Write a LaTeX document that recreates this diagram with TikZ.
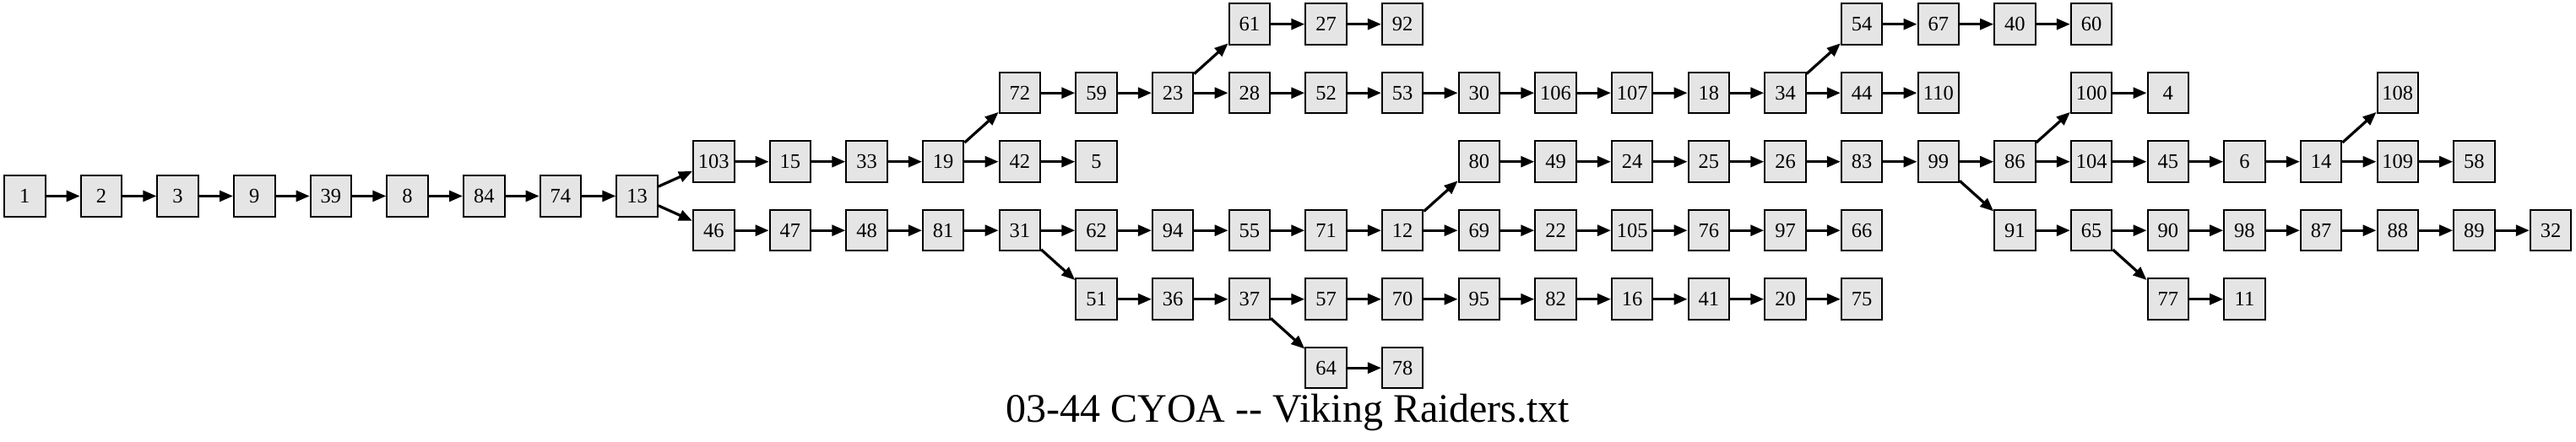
\documentclass[tikz,border=0pt]{standalone}
\usepackage{fontspec}
\setmainfont{Liberation Serif}
\usetikzlibrary{arrows.meta}

\begin{document}
\begin{tikzpicture}[x=45.33pt, y=-40.75pt,
            para/.style={draw, line width=1pt, fill=black!10, minimum width=24.25pt, minimum height=24.25pt, inner sep=0pt, font=\fontsize{12.25}{14}\selectfont},
            link/.style={-{Triangle[length=8pt,width=6.4pt]}, line width=1.6pt}]
            \useasboundingbox (-14.65pt,14.35pt) rectangle (1510.85pt,-247.65pt);
            % start
            \node [para] (n1) at (0,2.5) {1};
            \node [para] (n2) at (1,2.5) {2};
            \node [para] (n3) at (2,2.5) {3};
            \node [para] (n9) at (3,2.5) {9};
            \node [para] (n39) at (4,2.5) {39};
            \node [para] (n8) at (5,2.5) {8};
            \node [para] (n84) at (6,2.5) {84};
            \node [para] (n74) at (7,2.5) {74};
            \node [para] (n13) at (8,2.5) {13};
            % row 0
            \node [para] (n61) at (16,0) {61};
            \node [para] (n27) at (17,0) {27};
            \node [para] (n92) at (18,0) {92};
            \node [para] (n54) at (24,0) {54};
            \node [para] (n67) at (25,0) {67};
            \node [para] (n40) at (26,0) {40};
            \node [para] (n60) at (27,0) {60};
            % row 1
            \node [para] (n72) at (13,1) {72};
            \node [para] (n59) at (14,1) {59};
            \node [para] (n23) at (15,1) {23};
            \node [para] (n28) at (16,1) {28};
            \node [para] (n52) at (17,1) {52};
            \node [para] (n53) at (18,1) {53};
            \node [para] (n30) at (19,1) {30};
            \node [para] (n106) at (20,1) {106};
            \node [para] (n107) at (21,1) {107};
            \node [para] (n18) at (22,1) {18};
            \node [para] (n34) at (23,1) {34};
            \node [para] (n44) at (24,1) {44};
            \node [para] (n110) at (25,1) {110};
            \node [para] (n100) at (27,1) {100};
            \node [para] (n4) at (28,1) {4};
            \node [para] (n108) at (31,1) {108};
            % row 2
            \node [para] (n103) at (9,2) {103};
            \node [para] (n15) at (10,2) {15};
            \node [para] (n33) at (11,2) {33};
            \node [para] (n19) at (12,2) {19};
            \node [para] (n42) at (13,2) {42};
            \node [para] (n5) at (14,2) {5};
            \node [para] (n80) at (19,2) {80};
            \node [para] (n49) at (20,2) {49};
            \node [para] (n24) at (21,2) {24};
            \node [para] (n25) at (22,2) {25};
            \node [para] (n26) at (23,2) {26};
            \node [para] (n83) at (24,2) {83};
            \node [para] (n99) at (25,2) {99};
            \node [para] (n86) at (26,2) {86};
            \node [para] (n104) at (27,2) {104};
            \node [para] (n45) at (28,2) {45};
            \node [para] (n6) at (29,2) {6};
            \node [para] (n14) at (30,2) {14};
            \node [para] (n109) at (31,2) {109};
            \node [para] (n58) at (32,2) {58};
            % row 3
            \node [para] (n46) at (9,3) {46};
            \node [para] (n47) at (10,3) {47};
            \node [para] (n48) at (11,3) {48};
            \node [para] (n81) at (12,3) {81};
            \node [para] (n31) at (13,3) {31};
            \node [para] (n62) at (14,3) {62};
            \node [para] (n94) at (15,3) {94};
            \node [para] (n55) at (16,3) {55};
            \node [para] (n71) at (17,3) {71};
            \node [para] (n12) at (18,3) {12};
            \node [para] (n69) at (19,3) {69};
            \node [para] (n22) at (20,3) {22};
            \node [para] (n105) at (21,3) {105};
            \node [para] (n76) at (22,3) {76};
            \node [para] (n97) at (23,3) {97};
            \node [para] (n66) at (24,3) {66};
            \node [para] (n91) at (26,3) {91};
            \node [para] (n65) at (27,3) {65};
            \node [para] (n90) at (28,3) {90};
            \node [para] (n98) at (29,3) {98};
            \node [para] (n87) at (30,3) {87};
            \node [para] (n88) at (31,3) {88};
            \node [para] (n89) at (32,3) {89};
            \node [para] (n32) at (33,3) {32};
            % row 4
            \node [para] (n51) at (14,4) {51};
            \node [para] (n36) at (15,4) {36};
            \node [para] (n37) at (16,4) {37};
            \node [para] (n57) at (17,4) {57};
            \node [para] (n70) at (18,4) {70};
            \node [para] (n95) at (19,4) {95};
            \node [para] (n82) at (20,4) {82};
            \node [para] (n16) at (21,4) {16};
            \node [para] (n41) at (22,4) {41};
            \node [para] (n20) at (23,4) {20};
            \node [para] (n75) at (24,4) {75};
            \node [para] (n77) at (28,4) {77};
            \node [para] (n11) at (29,4) {11};
            % row 5
            \node [para] (n64) at (17,5) {64};
            \node [para] (n78) at (18,5) {78};
            % title
            \node [anchor=base, font=\fontsize{24}{28}\selectfont] (title) at (748.1pt,-235.65pt) {03-44 CYOA -\kern0pt- Viking Raiders.txt};
            % links
            \draw [link] (n1) -- (n2);
            \draw [link] (n2) -- (n3);
            \draw [link] (n3) -- (n9);
            \draw [link] (n9) -- (n39);
            \draw [link] (n39) -- (n8);
            \draw [link] (n8) -- (n84);
            \draw [link] (n84) -- (n74);
            \draw [link] (n74) -- (n13);
            \draw [link] (n13) -- (n103);
            \draw [link] (n13) -- (n46);
            \draw [link] (n103) -- (n15);
            \draw [link] (n15) -- (n33);
            \draw [link] (n33) -- (n19);
            \draw [link] (n19) -- (n72);
            \draw [link] (n19) -- (n42);
            \draw [link] (n42) -- (n5);
            \draw [link] (n72) -- (n59);
            \draw [link] (n59) -- (n23);
            \draw [link] (n23) -- (n61);
            \draw [link] (n23) -- (n28);
            \draw [link] (n61) -- (n27);
            \draw [link] (n27) -- (n92);
            \draw [link] (n28) -- (n52);
            \draw [link] (n52) -- (n53);
            \draw [link] (n53) -- (n30);
            \draw [link] (n30) -- (n106);
            \draw [link] (n106) -- (n107);
            \draw [link] (n107) -- (n18);
            \draw [link] (n18) -- (n34);
            \draw [link] (n34) -- (n54);
            \draw [link] (n34) -- (n44);
            \draw [link] (n54) -- (n67);
            \draw [link] (n67) -- (n40);
            \draw [link] (n40) -- (n60);
            \draw [link] (n44) -- (n110);
            \draw [link] (n46) -- (n47);
            \draw [link] (n47) -- (n48);
            \draw [link] (n48) -- (n81);
            \draw [link] (n81) -- (n31);
            \draw [link] (n31) -- (n62);
            \draw [link] (n31) -- (n51);
            \draw [link] (n62) -- (n94);
            \draw [link] (n94) -- (n55);
            \draw [link] (n55) -- (n71);
            \draw [link] (n71) -- (n12);
            \draw [link] (n12) -- (n80);
            \draw [link] (n12) -- (n69);
            \draw [link] (n80) -- (n49);
            \draw [link] (n49) -- (n24);
            \draw [link] (n24) -- (n25);
            \draw [link] (n25) -- (n26);
            \draw [link] (n26) -- (n83);
            \draw [link] (n83) -- (n99);
            \draw [link] (n99) -- (n86);
            \draw [link] (n99) -- (n91);
            \draw [link] (n86) -- (n100);
            \draw [link] (n86) -- (n104);
            \draw [link] (n100) -- (n4);
            \draw [link] (n104) -- (n45);
            \draw [link] (n45) -- (n6);
            \draw [link] (n6) -- (n14);
            \draw [link] (n14) -- (n108);
            \draw [link] (n14) -- (n109);
            \draw [link] (n109) -- (n58);
            \draw [link] (n69) -- (n22);
            \draw [link] (n22) -- (n105);
            \draw [link] (n105) -- (n76);
            \draw [link] (n76) -- (n97);
            \draw [link] (n97) -- (n66);
            \draw [link] (n91) -- (n65);
            \draw [link] (n65) -- (n90);
            \draw [link] (n65) -- (n77);
            \draw [link] (n90) -- (n98);
            \draw [link] (n98) -- (n87);
            \draw [link] (n87) -- (n88);
            \draw [link] (n88) -- (n89);
            \draw [link] (n89) -- (n32);
            \draw [link] (n77) -- (n11);
            \draw [link] (n51) -- (n36);
            \draw [link] (n36) -- (n37);
            \draw [link] (n37) -- (n57);
            \draw [link] (n37) -- (n64);
            \draw [link] (n57) -- (n70);
            \draw [link] (n70) -- (n95);
            \draw [link] (n95) -- (n82);
            \draw [link] (n82) -- (n16);
            \draw [link] (n16) -- (n41);
            \draw [link] (n41) -- (n20);
            \draw [link] (n20) -- (n75);
            \draw [link] (n64) -- (n78);
        \end{tikzpicture}
\end{document}
